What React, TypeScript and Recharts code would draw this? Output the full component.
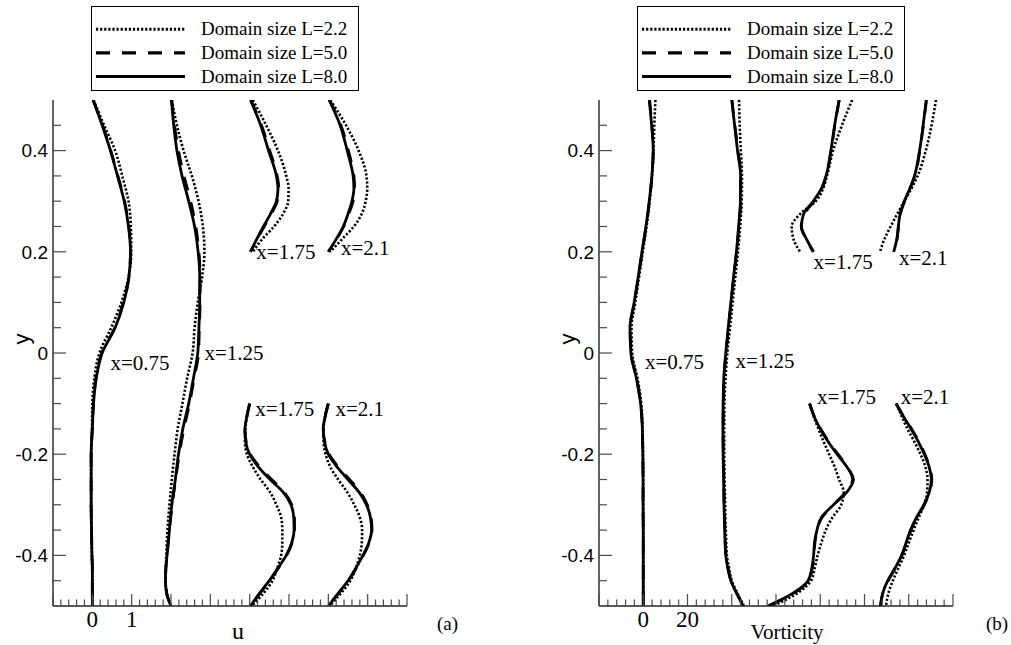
import React from 'react';
import { ComposedChart, Line, XAxis, YAxis, Legend, ReferenceDot, Label } from 'recharts';

const SERIF = '"Liberation Serif", "Times New Roman", serif';
const SANS = '"Liberation Sans", Arial, sans-serif';

// ---------- shared sampling in y ----------
const yFull = [0.5, 0.45, 0.4, 0.35, 0.3, 0.25, 0.2, 0.15, 0.1, 0.05, 0, -0.05, -0.1, -0.15, -0.2, -0.25, -0.3, -0.35, -0.4, -0.425, -0.45, -0.475, -0.5];
const yUpper = [0.5, 0.45, 0.4, 0.35, 0.325, 0.3, 0.275, 0.25, 0.225, 0.2];
const yLower = [-0.1, -0.125, -0.15, -0.175, -0.2, -0.225, -0.25, -0.275, -0.3, -0.325, -0.35, -0.375, -0.4, -0.425, -0.45, -0.475, -0.5];

// ---------- panel (a): u profiles, position on the shifted u axis ----------
const aX075_L22 = [0.03, 0.3, 0.58, 0.76, 0.92, 0.98, 0.99, 0.92, 0.74, 0.48, 0.18, 0.05, 0.0, -0.01, -0.03, -0.03, -0.03, -0.02, -0.01, 0.0, 0.0, 0.0, 0.0];
const aX075_L50 = [0.02, 0.26, 0.47, 0.65, 0.82, 0.93, 0.97, 0.93, 0.79, 0.57, 0.24, 0.09, 0.03, 0.0, -0.03, -0.03, -0.03, -0.02, -0.01, 0.0, 0.0, 0.0, 0.0];
const aX075_L80 = [0.02, 0.25, 0.46, 0.64, 0.81, 0.92, 0.97, 0.93, 0.8, 0.58, 0.25, 0.1, 0.03, 0.0, -0.03, -0.03, -0.03, -0.02, -0.01, 0.0, 0.0, 0.0, 0.0];

const aX125_L22 = [2.02, 2.15, 2.32, 2.53, 2.7, 2.81, 2.85, 2.79, 2.68, 2.6, 2.55, 2.41, 2.29, 2.17, 2.09, 2.02, 1.96, 1.91, 1.88, 1.87, 1.86, 1.89, 2.0];
const aX125_L50 = [2.02, 2.09, 2.19, 2.33, 2.5, 2.63, 2.71, 2.74, 2.74, 2.72, 2.7, 2.59, 2.47, 2.33, 2.21, 2.12, 2.03, 1.96, 1.9, 1.87, 1.86, 1.89, 2.0];
const aX125_L80 = [2.01, 2.07, 2.15, 2.28, 2.45, 2.6, 2.69, 2.73, 2.73, 2.71, 2.68, 2.57, 2.45, 2.3, 2.19, 2.11, 2.02, 1.96, 1.9, 1.87, 1.86, 1.89, 2.0];

const aX175u_L22 = [4.08, 4.42, 4.72, 4.93, 4.99, 4.98, 4.85, 4.62, 4.32, 4.08];
const aX175u_L50 = [4.03, 4.3, 4.51, 4.7, 4.74, 4.7, 4.55, 4.37, 4.19, 4.02];
const aX175u_L80 = [4.02, 4.28, 4.48, 4.68, 4.72, 4.68, 4.53, 4.35, 4.18, 4.02];

const aX21u_L22 = [6.05, 6.45, 6.77, 6.97, 6.99, 6.95, 6.85, 6.65, 6.35, 6.05];
const aX21u_L50 = [6.03, 6.32, 6.51, 6.65, 6.67, 6.63, 6.52, 6.39, 6.21, 6.0];
const aX21u_L80 = [6.02, 6.3, 6.48, 6.63, 6.65, 6.6, 6.5, 6.38, 6.2, 6.0];

const aX175l_L22 = [4.0, 3.93, 3.89, 3.88, 3.93, 4.08, 4.28, 4.52, 4.68, 4.8, 4.83, 4.83, 4.8, 4.7, 4.58, 4.35, 4.05];
const aX175l_L50 = [4.0, 3.93, 3.88, 3.91, 4.02, 4.25, 4.56, 4.88, 5.07, 5.14, 5.14, 5.08, 4.94, 4.73, 4.51, 4.26, 4.02];
const aX175l_L80 = [4.0, 3.93, 3.88, 3.9, 4.0, 4.22, 4.52, 4.85, 5.05, 5.12, 5.13, 5.07, 4.93, 4.72, 4.5, 4.25, 4.02];

const aX21l_L22 = [6.0, 5.92, 5.88, 5.88, 5.93, 6.05, 6.25, 6.48, 6.66, 6.8, 6.86, 6.85, 6.8, 6.7, 6.56, 6.32, 6.03];
const aX21l_L50 = [6.0, 5.92, 5.87, 5.91, 6.02, 6.25, 6.54, 6.81, 6.99, 7.09, 7.11, 7.04, 6.89, 6.71, 6.51, 6.26, 6.0];
const aX21l_L80 = [6.0, 5.92, 5.87, 5.9, 6.0, 6.22, 6.5, 6.78, 6.97, 7.07, 7.1, 7.03, 6.88, 6.7, 6.5, 6.25, 6.0];

// ---------- panel (b): vorticity profiles, position on the shifted axis ----------
const bX075_L22 = [5.5, 5.0, 4.6, 4.0, 2.9, 1.5, -0.2, -1.9, -3.6, -5.3, -5.0, -2.6, -0.9, -0.3, -0.1, 0, 0, 0, 0, 0, 0, 0, 0];
const bX075_L50 = [2.9, 3.9, 4.5, 3.9, 2.8, 1.3, -0.5, -2.2, -4.0, -5.9, -5.5, -3.0, -1.2, -0.4, -0.2, -0.1, -0.1, 0, 0, 0, 0, 0, 0];
const bX075_L80 = [2.7, 3.8, 4.5, 3.9, 2.7, 1.2, -0.6, -2.3, -4.1, -6.0, -5.6, -3.1, -1.2, -0.4, -0.2, -0.1, -0.1, 0, 0, 0, 0, 0, 0];

const bX125_L22 = [43.3, 43.6, 44.1, 44.6, 44.5, 43.8, 42.8, 41.6, 40.4, 39.2, 38.0, 37.2, 36.7, 36.6, 36.6, 36.8, 37.0, 37.3, 37.8, 38.8, 40.0, 42.6, 45.5];
const bX125_L50 = [40.1, 41.4, 42.8, 44.1, 44.0, 43.2, 42.2, 40.9, 39.7, 38.5, 37.4, 36.5, 36.2, 36.1, 36.2, 36.4, 36.6, 36.9, 37.4, 38.3, 39.7, 42.3, 45.2];
const bX125_L80 = [40.0, 41.3, 42.6, 44.0, 43.9, 43.1, 42.1, 40.8, 39.6, 38.4, 37.3, 36.4, 36.1, 36.0, 36.1, 36.3, 36.5, 36.8, 37.3, 38.2, 39.6, 42.2, 45.2];

const bX175u_L22 = [94.4, 89.8, 85.8, 83.0, 81.3, 78.0, 71.0, 67.1, 67.9, 70.9];
const bX175u_L50 = [88.6, 86.6, 84.9, 82.7, 80.7, 77.2, 72.8, 71.4, 73.6, 76.8];
const bX175u_L80 = [88.5, 86.5, 84.8, 82.6, 80.5, 76.8, 72.5, 71.5, 73.8, 77.0];

const bX21u_L22 = [132.3, 130.3, 127.7, 124.0, 121.2, 118.0, 114.8, 111.8, 109.0, 107.0];
const bX21u_L50 = [128.0, 126.6, 125.0, 122.8, 120.6, 118.2, 116.2, 115.4, 114.7, 113.2];
const bX21u_L80 = [127.9, 126.5, 124.9, 122.6, 120.5, 118.0, 116.1, 115.3, 114.6, 113.2];

const bX175l_L22 = [75.2, 77.0, 79.2, 81.5, 84.0, 86.5, 88.5, 90.6, 89.5, 85.5, 82.5, 80.5, 78.8, 77.5, 75.8, 69.5, 58.5];
const bX175l_L50 = [75.2, 77.3, 80.2, 83.8, 88.0, 92.3, 94.6, 91.4, 86.0, 80.8, 78.6, 77.6, 77.2, 76.4, 74.8, 68.0, 56.5];
const bX175l_L80 = [75.2, 77.2, 80.0, 83.5, 87.6, 92.0, 95.0, 92.0, 86.0, 80.5, 78.5, 77.4, 77.0, 76.2, 74.5, 67.5, 56.3];

const bX21l_L22 = [114.5, 116.8, 119.4, 122.5, 125.3, 127.5, 128.5, 128.3, 127.0, 124.5, 122.2, 120.0, 117.9, 115.3, 112.8, 110.8, 109.7];
const bX21l_L50 = [114.3, 117.7, 121.3, 124.6, 127.3, 129.4, 130.4, 129.5, 127.0, 123.7, 121.0, 118.9, 116.9, 114.0, 110.7, 108.3, 107.3];
const bX21l_L80 = [114.2, 117.5, 121.0, 124.3, 127.0, 129.2, 130.2, 129.3, 126.8, 123.5, 120.8, 118.8, 116.8, 113.8, 110.5, 108.2, 107.2];

// ---------- station labels (axis value, y, text) ----------
const stationLabelsA = [
  { x: 0.46, y: -0.02, text: 'x=0.75' },
  { x: 2.85, y: 0.0, text: 'x=1.25' },
  { x: 4.17, y: 0.2, text: 'x=1.75' },
  { x: 6.32, y: 0.208, text: 'x=2.1' },
  { x: 4.14, y: -0.109, text: 'x=1.75' },
  { x: 6.18, y: -0.109, text: 'x=2.1' },
];
const stationLabelsB = [
  { x: 0.8, y: -0.018, text: 'x=0.75' },
  { x: 41.7, y: -0.016, text: 'x=1.25' },
  { x: 77.0, y: 0.18, text: 'x=1.75' },
  { x: 115.6, y: 0.189, text: 'x=2.1' },
  { x: 78.5, y: -0.087, text: 'x=1.75' },
  { x: 116.4, y: -0.087, text: 'x=2.1' },
];

// ---------- axes ----------
const yTicks = [0.45, 0.4, 0.35, 0.3, 0.25, 0.2, 0.15, 0.1, 0.05, 0, -0.05, -0.1, -0.15, -0.2, -0.25, -0.3, -0.35, -0.4, -0.45];
const yMajorTicks = [0.4, 0.2, 0, -0.2, -0.4];
const yTickLabels = ['0.4', '0.2', '0', '-0.2', '-0.4'];

const uMajorTicks = [-1, 0, 1, 2, 3, 4, 5, 6, 7, 8];
const uLabelTicks = [0, 1];
const uTickLabels = ['0', '1'];

const wMajorTicks = [-20, 0, 20, 40, 60, 80, 100, 120, 140];
const wLabelTicks = [0, 20];
const wTickLabels = ['0', '20'];

const legendLabels = ['Domain size L=2.2', 'Domain size L=5.0', 'Domain size L=8.0'];

const range = (start: number, stop: number, step: number) =>
  Array.from({ length: Math.round((stop - start) / step) + 1 }, (_, i) => +(start + i * step).toFixed(4));

const uTicks = range(-1, 8, 0.2);
const wTicks = range(-20, 140, 4);

// ---------- styles per domain size ----------
const lineStyles = [
  { dash: '2.2 1.9', width: 2.6 },
  { dash: '14 12', width: 2.8 },
  { dash: undefined as string | undefined, width: 2.8 },
];

type Profile = { ys: number[]; series: number[][] };

const profilesA: Profile[] = [
  { ys: yFull, series: [aX075_L22, aX075_L50, aX075_L80] },
  { ys: yFull, series: [aX125_L22, aX125_L50, aX125_L80] },
  { ys: yUpper, series: [aX175u_L22, aX175u_L50, aX175u_L80] },
  { ys: yUpper, series: [aX21u_L22, aX21u_L50, aX21u_L80] },
  { ys: yLower, series: [aX175l_L22, aX175l_L50, aX175l_L80] },
  { ys: yLower, series: [aX21l_L22, aX21l_L50, aX21l_L80] },
];
const profilesB: Profile[] = [
  { ys: yFull, series: [bX075_L22, bX075_L50, bX075_L80] },
  { ys: yFull, series: [bX125_L22, bX125_L50, bX125_L80] },
  { ys: yUpper, series: [bX175u_L22, bX175u_L50, bX175u_L80] },
  { ys: yUpper, series: [bX21u_L22, bX21u_L50, bX21u_L80] },
  { ys: yLower, series: [bX175l_L22, bX175l_L50, bX175l_L80] },
  { ys: yLower, series: [bX21l_L22, bX21l_L50, bX21l_L80] },
];

const toPoints = (ys: number[], xs: number[]) => ys.map((y, i) => ({ y, x: xs[i] }));
const near = (a: number, b: number) => Math.abs(a - b) < 1e-6;

// ---------- layout ----------
const CHART_H = 645;
const Y_AXIS_W = 40;
const X_AXIS_H = 30;
const MARGIN_TOP = 100;
const MARGIN_BOTTOM = 9;
const MARGIN_LEFT = 13;
const AXIS_X = MARGIN_LEFT + Y_AXIS_W;
const AXIS_Y = CHART_H - MARGIN_BOTTOM - X_AXIS_H;
const TICK_COLOR = '#4a4a4a';

const YTick = (props: any) => {
  const { y, payload } = props;
  const v = payload.value;
  const idx = yMajorTicks.findIndex((m) => near(m, v));
  const major = idx >= 0;
  return (
    <g>
      <line x1={AXIS_X} x2={AXIS_X + (major ? 13 : 8)} y1={y} y2={y} stroke={TICK_COLOR} strokeWidth={1.2} />
      {major && (
        <text x={AXIS_X - 5} y={y} dy="0.36em" textAnchor="end" fontFamily={SANS} fontSize={19} fill="#000">
          {yTickLabels[idx]}
        </text>
      )}
    </g>
  );
};

const makeXTick = (majors: number[], labelTicks: number[], labels: string[]) => (props: any) => {
  const { x, payload } = props;
  const v = payload.value;
  const major = majors.some((m) => near(m, v));
  const li = labelTicks.findIndex((m) => near(m, v));
  return (
    <g>
      <line x1={x} x2={x} y1={AXIS_Y} y2={AXIS_Y - (major ? 12 : 6.5)} stroke={TICK_COLOR} strokeWidth={1.2} />
      {li >= 0 && (
        <text x={x} y={AXIS_Y + 13} dy="0.35em" textAnchor="middle" fontFamily={SERIF} fontSize={23} fill="#000">
          {labels[li]}
        </text>
      )}
    </g>
  );
};

const LegendBox = () => {
  const rows = [23.3, 46.8, 70.5];
  return (
    <svg width={268} height={85} style={{ display: 'block' }}>
      <rect x={0.5} y={0.5} width={267} height={84} fill="#fff" stroke="#000" strokeWidth={1} />
      {legendLabels.map((label, i) => (
        <g key={label}>
          <line
            x1={5}
            x2={94}
            y1={rows[i]}
            y2={rows[i]}
            stroke="#000"
            strokeWidth={lineStyles[i].width + 0.4}
            strokeDasharray={lineStyles[i].dash}
          />
          <text x={110} y={rows[i] + 6} fontFamily={SERIF} fontSize={19} fill="#000">
            {label}
          </text>
        </g>
      ))}
    </svg>
  );
};

const StationLabel = (text: string) => (props: any) => (
  <text x={props.cx} y={props.cy} dy="0.35em" fontFamily={SERIF} fontSize={21} fill="#000">
    {text}
  </text>
);

type PanelProps = {
  width: number;
  marginRight: number;
  profiles: Profile[];
  xDomain: [number, number];
  xTicks: number[];
  xTick: (p: any) => React.ReactElement;
  stationLabels: { x: number; y: number; text: string }[];
  xTitle: string;
  xTitleSize: number;
  xTitleDx: number;
};

const Panel = ({ width, marginRight, profiles, xDomain, xTicks, xTick, stationLabels, xTitle, xTitleSize, xTitleDx }: PanelProps) => (
  <ComposedChart
    layout="vertical"
    width={width}
    height={CHART_H}
    margin={{ top: MARGIN_TOP, right: marginRight, bottom: MARGIN_BOTTOM, left: MARGIN_LEFT }}
  >
    <XAxis
      type="number"
      domain={xDomain}
      ticks={xTicks}
      interval={0}
      height={X_AXIS_H}
      allowDataOverflow
      axisLine={{ stroke: '#222', strokeWidth: 1.4 }}
      tickLine={false}
      tick={xTick}
    >
      <Label
        content={(p: any) => {
          const vb = p.viewBox || { x: AXIS_X, y: AXIS_Y, width: width - AXIS_X - marginRight };
          return (
            <text x={vb.x + vb.width / 2 + xTitleDx} y={AXIS_Y + 33} textAnchor="middle" fontFamily={SERIF} fontSize={xTitleSize} fill="#000">
              {xTitle}
            </text>
          );
        }}
      />
    </XAxis>
    <YAxis
      type="number"
      dataKey="y"
      domain={[-0.5, 0.5]}
      ticks={yTicks}
      interval={0}
      width={Y_AXIS_W}
      reversed
      allowDataOverflow
      axisLine={{ stroke: '#222', strokeWidth: 1.4 }}
      tickLine={false}
      tick={YTick}
    >
      <Label
        content={() => (
          <text
            x={AXIS_X - 32}
            y={339}
            transform={`rotate(-90, ${AXIS_X - 32}, 339)`}
            textAnchor="middle"
            dominantBaseline="central"
            fontFamily={SANS}
            fontSize={22}
            fill="#000"
          >
            y
          </text>
        )}
      />
    </YAxis>
    <Legend
      layout="horizontal"
      verticalAlign="middle"
      align="center"
      wrapperStyle={{ top: 6, left: 91, width: 268, height: 85 }}
      content={() => <LegendBox />}
    />
    {lineStyles.map((style, si) =>
      profiles.map((pr, pi) => (
        <Line
          key={`s${si}-p${pi}`}
          data={toPoints(pr.ys, pr.series[si])}
          dataKey="x"
          type="monotone"
          stroke="#000"
          strokeWidth={style.width}
          strokeDasharray={style.dash}
          strokeLinejoin="round"
          dot={false}
          activeDot={false}
          legendType="none"
          isAnimationActive={false}
        />
      ))
    )}
    {stationLabels.map((l, i) => (
      <ReferenceDot key={`lbl${i}`} x={l.x} y={l.y} r={0} ifOverflow="visible" shape={StationLabel(l.text)} />
    ))}
  </ComposedChart>
);

export default function App() {
  return (
    <div style={{ position: 'absolute', left: 0, top: 0, width: 1011, height: 645, background: '#fff' }}>
      <div style={{ position: 'absolute', left: 0, top: 0 }}>
        <Panel
          width={500}
          marginRight={93}
          profiles={profilesA}
          xDomain={[-1, 8]}
          xTicks={uTicks}
          xTick={makeXTick(uMajorTicks, uLabelTicks, uTickLabels)}
          stationLabels={stationLabelsA}
          xTitle="u"
          xTitleSize={24}
          xTitleDx={8}
        />
      </div>
      <div style={{ position: 'absolute', left: 546, top: 0 }}>
        <Panel
          width={465}
          marginRight={58}
          profiles={profilesB}
          xDomain={[-20, 140]}
          xTicks={wTicks}
          xTick={makeXTick(wMajorTicks, wLabelTicks, wTickLabels)}
          stationLabels={stationLabelsB}
          xTitle="Vorticity"
          xTitleSize={21}
          xTitleDx={11}
        />
      </div>
      <span style={{ position: 'absolute', left: 437, top: 612, fontFamily: SERIF, fontSize: 19, lineHeight: '24px' }}>(a)</span>
      <span style={{ position: 'absolute', left: 986, top: 612, fontFamily: SERIF, fontSize: 19, lineHeight: '24px' }}>(b)</span>
    </div>
  );
}
